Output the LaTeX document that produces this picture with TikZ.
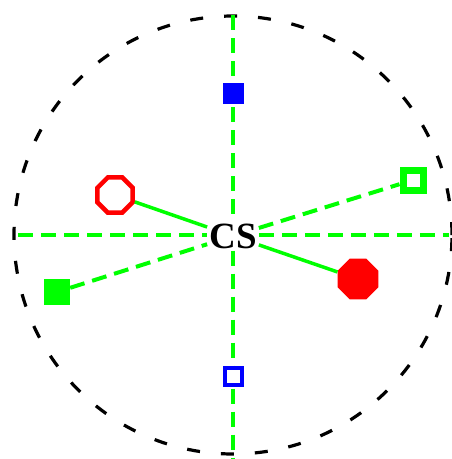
\documentclass[tikz,border=0pt]{standalone}
\usepackage{fontspec}
\setmainfont{Liberation Serif}
\usetikzlibrary{shapes.geometric,backgrounds}
\definecolor{gr}{RGB}{0,255,0}
\definecolor{rd}{RGB}{255,0,0}
\definecolor{bl}{RGB}{0,0,255}
\begin{document}
\begin{tikzpicture}[x=1pt,y=-1pt,
  gdash/.style={draw=gr, line width=4pt, dash pattern=on 15pt off 8pt},
  gsolid/.style={draw=gr, line width=3.5pt},
  ring/.style={draw=black, line width=3.2pt, dash pattern=on 13pt off 21pt},
  sq/.style={rectangle, inner sep=0pt},
  oct/.style={regular polygon, regular polygon sides=8, inner sep=0pt}]
\useasboundingbox (0,0) rectangle (452,459);
\node[font=\bfseries\fontsize{37}{37}\selectfont, inner sep=2pt] (cs) at (233,236) {CS};
\node[sq, fill=bl, minimum size=21pt] (b1) at (233,93) {};
\node[sq, draw=bl, fill=white, line width=4pt, minimum size=17pt] (b2) at (233,376) {};
\node[sq, draw=gr, fill=white, line width=7pt, minimum size=20pt] (g1) at (413,180) {};
\node[sq, fill=gr, minimum size=26pt] (g2) at (57,292) {};
\node[oct, draw=rd, fill=white, line width=4.5pt, minimum size=38pt] (r1) at (115,195) {};
\node[oct, fill=rd, minimum size=44pt] (r2) at (358,279) {};
\coordinate (top) at (233,15);
\coordinate (bot) at (233,459);
\coordinate (lft) at (18,235);
\coordinate (rgt) at (449,235);
\begin{scope}[on background layer]
\draw[ring] (233,235) circle [radius=219pt];
\draw[gdash] (top) -- (cs.north);
\draw[gdash] (cs.south) -- (bot);
\draw[gdash] (lft) -- (cs.west |- lft);
\draw[gdash] (cs.east |- rgt) -- (rgt);
\end{scope}
\draw[gdash] (g2) -- (cs);
\draw[gdash] (cs) -- (g1);
\draw[gsolid] (r1) -- (cs);
\draw[gsolid] (cs) -- (r2);
\end{tikzpicture}
\end{document}
